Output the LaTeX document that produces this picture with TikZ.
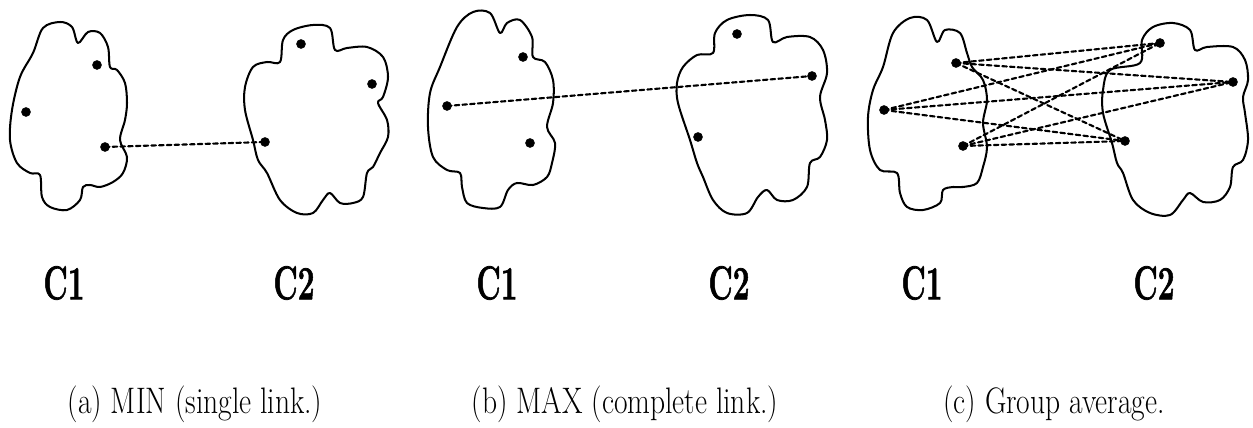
\documentclass[tikz,border=0pt]{standalone}
\usepackage{fontspec}
\usepackage{tkz-euclide}
\newfontfamily\labfont{Latin Modern Roman}[BoldFeatures={FakeBold=1.6}]
\tikzset{>=stealth}
\tikzset{
  blob/.style={line width=1.15pt, line join=round},
  link/.style={dash pattern=on 2.6pt off 1.8pt, line width=1.2pt},
  clab/.style={font=\fontsize{27}{30}\selectfont\labfont\bfseries, xscale=0.63, inner sep=0pt},
  caption/.style={font=\fontsize{21}{24}\selectfont, xscale=0.8, inner sep=0pt}
}

\begin{document}
\begin{tikzpicture}[x=0.02cm, y=-0.02cm]
    \useasboundingbox (0,0) rectangle (1253,428);
    % (a) single link
    \draw[blob] plot[smooth cycle, tension=0.55] coordinates {(33,53) (43,28) (60,22) (72,27) (78,43) (88,32) (100,33) (108,47) (110,67) (117,70) (125,83) (127,103) (125,120) (120,140) (127,157) (123,173) (113,182) (100,187) (90,185) (83,187) (80,200) (67,210) (50,207) (42,197) (40,175) (30,173) (17,163) (10,140) (12,110) (20,77)};
    \draw[blob] plot[smooth cycle, tension=0.55] coordinates {(253,67) (267,62) (280,62) (283,40) (293,30) (313,25) (330,28) (335,50) (347,48) (367,47) (383,57) (388,77) (383,97) (378,103) (387,120) (388,137) (380,153) (373,167) (367,173) (363,197) (353,203) (340,203) (330,193) (323,200) (313,213) (297,213) (280,200) (267,173) (258,160) (253,140) (245,110) (245,87)};
    \tkzDefPoints{97/65/a1, 26/112/a2, 105/147/a3, 301/44/a4, 372/84/a5, 265/142/a6}
    \tkzDrawSegment[link](a3,a6)
    \tkzDrawPoints[fill=black, size=5](a1,a2,a3,a4,a5,a6)
    % (b) complete link
    \draw[blob] plot[smooth cycle, tension=0.55] coordinates {(440,67) (457,27) (473,12) (490,13) (500,33) (507,23) (520,20) (532,37) (533,57) (545,62) (553,80) (553,103) (547,127) (555,143) (552,163) (547,177) (533,185) (517,183) (508,190) (500,207) (483,208) (467,203) (462,187) (460,173) (447,170) (433,157) (428,127) (430,93)};
    \draw[blob] plot[smooth cycle, tension=0.55] coordinates {(683,67) (697,55) (713,53) (715,33) (727,20) (750,15) (768,20) (773,42) (787,37) (810,37) (823,50) (827,73) (820,97) (825,120) (827,140) (820,157) (810,163) (807,187) (793,200) (777,200) (767,190) (758,197) (747,213) (727,213) (713,200) (703,177) (697,163) (690,140) (678,103) (677,83)};
    \tkzDefPoints{523/57/b1, 447/106/b2, 530/143/b3, 737/34/b4, 812/76/b5, 698/137/b6}
    \tkzDrawSegment[link](b2,b5)
    \tkzDrawPoints[fill=black, size=5](b1,b2,b3,b4,b5,b6)
    % (c) group average
    \draw[blob] plot[smooth cycle, tension=0.55] coordinates {(883,67) (893,33) (910,18) (927,20) (937,42) (945,30) (960,33) (967,53) (972,67) (983,80) (987,100) (983,123) (987,147) (983,167) (977,183) (963,187) (953,187) (943,190) (940,203) (923,210) (907,207) (900,193) (897,173) (880,170) (870,150) (868,117) (873,90)};
    \draw[blob] plot[smooth cycle, tension=0.55] coordinates {(1110,70) (1140,63) (1142,40) (1153,27) (1173,23) (1190,30) (1195,50) (1207,47) (1233,47) (1245,60) (1248,80) (1243,97) (1245,113) (1248,140) (1243,160) (1233,167) (1230,187) (1220,200) (1203,202) (1190,193) (1183,200) (1170,215) (1150,213) (1133,200) (1123,173) (1117,163) (1112,143) (1103,113) (1103,90)};
    \tkzDefPoints{956/63/c1, 884/110/c2, 963/146/c3, 1160/43/c4, 1233/82/c5, 1125/141/c6}
    \tkzDrawSegments[link](c1,c4 c1,c5 c1,c6 c2,c4 c2,c5 c2,c6 c3,c4 c3,c5 c3,c6)
    \tkzDrawPoints[fill=black, size=5](c1,c2,c3,c4,c5,c6)
    % cluster names and captions
    \node[clab] (na1) at (64,283) {C1};
    \node[clab] (na2) at (294,283) {C2};
    \node[clab] (nb1) at (497,283) {C1};
    \node[clab] (nb2) at (729,283) {C2};
    \node[clab] (nc1) at (922,283) {C1};
    \node[clab] (nc2) at (1154,283) {C2};
    \node[caption] (capa) at (195,404) {(a) MIN (single link.)};
    \node[caption] (capb) at (625,404) {(b) MAX (complete link.)};
    \node[caption] (capc) at (1054,404) {(c) Group average.};
\end{tikzpicture}
\end{document}
